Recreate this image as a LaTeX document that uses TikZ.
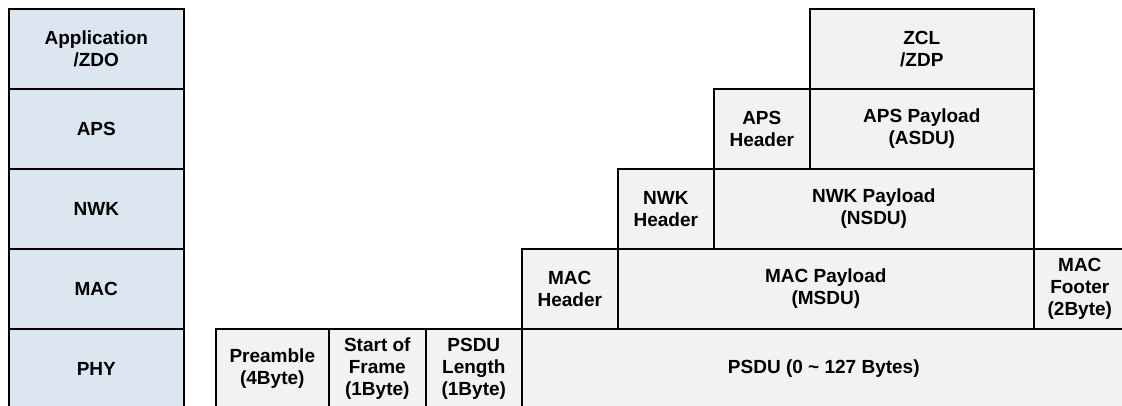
\documentclass[tikz,border=0pt]{standalone}
\usepackage{fontspec}
\setmainfont{Liberation Sans}
\usepackage{xcolor}
\usepackage{tikz}
\definecolor{layerblue}{RGB}{220,230,241}
\definecolor{framegray}{RGB}{242,242,242}

\begin{document}
\begin{tikzpicture}[x=1pt,y=-1pt,line join=miter,
    cell/.style={draw,line width=1.6pt,fill=framegray,anchor=north west,inner sep=0pt,
      minimum height=80pt,align=center,font=\bfseries\fontsize{19}{22}\selectfont},
    layer/.style={cell,fill=layerblue,minimum width=175pt}]
  \useasboundingbox (0,0) rectangle (1122,406);
  \clip (0,0) rectangle (1122,406);
  % protocol layers
  \node[layer] (app) at (8,8) {Application\\/ZDO};
  \node[layer] (aps) at (8,88) {APS};
  \node[layer] (nwk) at (8,168) {NWK};
  \node[layer] (mac) at (8,248) {MAC};
  \node[layer] (phy) at (8,328) {PHY};
  % application frame
  \node[cell,minimum width=224pt] (zcl) at (809,8) {ZCL\\/ZDP};
  % aps frame
  \node[cell,minimum width=96pt] (apshdr) at (713,88) {APS\\Header};
  \node[cell,minimum width=224pt] (apspay) at (809,88) {APS Payload\\(ASDU)};
  % nwk frame
  \node[cell,minimum width=96pt] (nwkhdr) at (617,168) {NWK\\Header};
  \node[cell,minimum width=320pt] (nwkpay) at (713,168) {NWK Payload\\(NSDU)};
  % mac frame
  \node[cell,minimum width=96pt] (machdr) at (521,248) {MAC\\Header};
  \node[cell,minimum width=416pt] (macpay) at (617,248) {MAC Payload\\(MSDU)};
  \node[cell,minimum width=92pt] (macftr) at (1033,248) {MAC\\Footer\\(2Byte)};
  % phy frame
  \node[cell,minimum width=113pt] (pre) at (215,328) {Preamble\\(4Byte)};
  \node[cell,minimum width=97pt] (sof) at (328,328) {Start of\\Frame\\(1Byte)};
  \node[cell,minimum width=96pt] (plen) at (425,328) {PSDU\\Length\\(1Byte)};
  \node[cell,minimum width=604pt] (psdu) at (521,328) {PSDU (0 \textasciitilde{} 127 Bytes)};
\end{tikzpicture}
\end{document}
